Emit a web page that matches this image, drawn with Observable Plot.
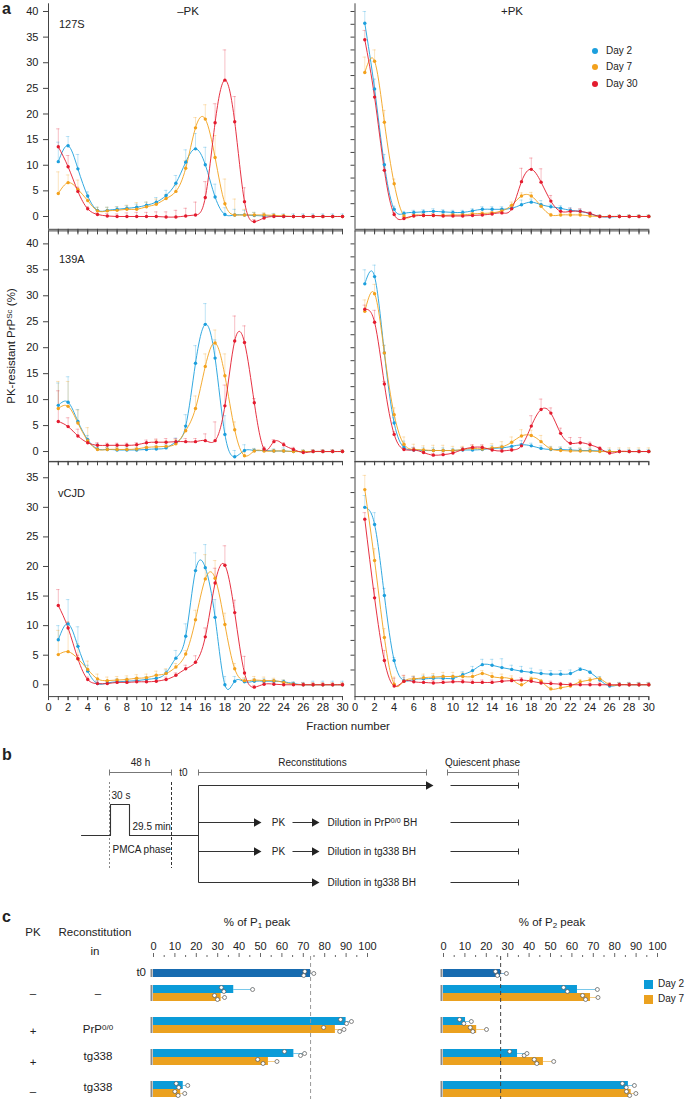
<!DOCTYPE html>
<html><head><meta charset="utf-8">
<script src="https://cdn.jsdelivr.net/npm/d3@7"></script>
<script src="https://cdn.jsdelivr.net/npm/@observablehq/plot@0.6"></script>
<style>
body{margin:0;background:#fff;}
#fig{position:relative;width:685px;height:1099px;overflow:hidden;font-family:"Liberation Sans",Arial,Helvetica,sans-serif;color:#222;background:#fff;}
#fig svg{position:absolute;}
.lab{position:absolute;white-space:nowrap;line-height:1;}
.lab sup{font-size:70%;vertical-align:0.45em;line-height:0;}
.lab sub{font-size:70%;vertical-align:-0.25em;line-height:0;}
</style></head><body><div id="fig"></div>
<script>
// ---------------- DATA: panel a ----------------
const fractions = d3.range(1, 31);
const seriesNames = ["Day 2", "Day 7", "Day 30"];
const seriesColors = ["#1c9fdd", "#f3a11c", "#e31b2e"];
const strains = ["127S", "139A", "vCJD"];
const treatments = ["–PK", "+PK"];

// 127S, −PK
const s127_mPK_d2 = [10.7,13.8,9.3,4.0,1.2,1.2,1.4,1.6,1.8,2.2,2.8,4.1,6.5,10.6,13.2,10.1,3.8,0.4,0.3,0.3,0.2,0.1,0.1,0,0,0,0,0,0,0];
const s127_mPK_d2_err = [3.8,1.8,2.8,0.8,0.6,0.6,0.5,0.5,0.6,0.6,0.9,1.0,1.5,2.4,3.0,3.4,2.5,1.3,1.1,0.9,0.6,0.5,0.5,0.5,0.5,0.5,0.5,0.5,0.5,0.5];
const s127_mPK_d7 = [4.5,6.6,5.3,3.1,1.1,1.1,1.2,1.4,1.4,1.9,2.4,3.5,4.9,9.4,17.3,19.0,11.5,2.5,0.3,0.3,0.3,0.3,0.2,0.1,0,0,0,0,0,0];
const s127_mPK_d7_err = [4.2,1.5,1.8,1.0,0.7,0.7,0.7,0.8,1.3,0.9,1.0,0.8,1.2,1.5,2.0,2.8,4.3,4.8,3.1,1.1,0.5,0.4,0.3,0.3,0,0,0,0,0,0];
const s127_mPK_d30 = [13.6,9.7,4.9,1.5,0.4,0.1,0,0,0,0,0,-0.1,-0.1,0.1,0.3,3.7,18.3,26.6,18.5,2.9,-1.0,-0.3,0,0,0,0,0,0,0,0];
const s127_mPK_d30_err = [3.5,2.2,0.8,0.4,0.3,0.5,0.5,0.7,0.8,0.8,0.9,1.0,1.3,1.5,2.5,3.1,3.7,5.9,4.9,2.7,0.4,0.3,0,0,0,0,0,0,0,0];
// 127S, +PK
const s127_pPK_d2 = [37.7,24.9,10.1,1.4,0.6,0.8,0.9,1.0,0.9,0.8,0.8,1.1,1.4,1.4,1.4,1.6,2.3,2.8,2.3,1.9,1.6,1.2,1.0,0.5,0,-0.1,0,0,0,0];
const s127_pPK_d2_err = [2.3,1.9,2.0,0.6,0.4,0.4,0.4,0.5,0.4,0.4,0.4,0.4,0.5,0.5,0.5,0.6,0.9,0.6,0.8,0.5,0.5,0.5,0.4,0.3,0.3,0.3,0.3,0.3,0.3,0.3];
const s127_pPK_d7 = [28.1,30.3,18.4,6.4,0.1,0.2,0.2,0.2,0.2,0.3,0.3,0.5,0.6,0.7,1.1,2.2,4.0,4.0,2.0,0.3,0.3,0.3,0.3,0.1,0,0,0,0,0,0];
const s127_pPK_d7_err = [3.0,2.2,2.3,0.9,0.3,0.3,0.3,0.3,0.3,0.3,0.3,0.3,0.3,0.3,0.4,0.6,0.6,0.7,0.5,0.3,0.3,0.3,0.3,0.3,0.3,0.3,0.3,0.3,0.3,0.3];
const s127_pPK_d30 = [34.5,23.3,9.0,0.4,-0.4,0.1,0.2,0.2,0.1,0.1,0.1,0.2,0.3,0.5,0.7,1.5,6.8,9.2,6.7,3.0,1.0,1.0,1.0,0.6,0,0,0,0,0,0];
const s127_pPK_d30_err = [1.8,1.5,1.2,0.4,0.3,0.3,0.3,0.3,0.3,0.3,0.3,0.3,0.3,0.3,0.4,0.6,2.6,2.2,2.6,1.1,0.6,0.6,0.5,0.3,0,0,0,0,0,0];
// 139A, −PK
const s139_mPK_d2 = [8.9,9.5,5.8,2.3,0.5,0.4,0.3,0.3,0.3,0.4,0.5,0.7,1.8,4.9,17.0,24.5,18.0,3.3,-1.0,0.2,0.2,0.2,0.1,0.1,0,0,0,0,0,0];
const s139_mPK_d2_err = [4.3,4.9,2.3,0.8,1.0,0.4,0.4,0.4,0.4,0.6,0.6,0.6,0.8,2.2,3.4,4.0,3.5,3.6,1.2,1.1,0.4,0.4,0.4,0.6,0.3,0.3,0.3,0.3,0.3,0.3];
const s139_mPK_d7 = [8.3,8.7,5.5,2.1,0.4,0.4,0.4,0.4,0.5,0.8,0.9,1.0,1.5,4.0,8.3,16.4,20.9,14.6,4.2,-0.8,0.1,0.1,0.1,0.1,0,0,0,0,0,0];
const s139_mPK_d7_err = [5.2,4.8,2.5,2.5,0.4,0.4,0.4,0.6,0.7,0.8,1.3,1.0,0.8,1.0,2.4,2.4,2.5,4.2,1.5,0.6,0.4,0.3,0.3,0.3,0.3,0.3,0.3,0.3,0.3,0.3];
const s139_mPK_d30 = [5.8,4.8,3.0,1.7,1.2,1.2,1.2,1.2,1.3,1.7,1.8,1.8,1.9,1.9,1.9,2.1,2.1,8.8,21.3,21.0,9.4,0.5,1.9,1.3,0.4,-0.2,0,0,0,0];
const s139_mPK_d30_err = [5.9,1.7,1.3,0.8,0.5,0.4,0.4,0.4,0.4,0.5,0.6,0.7,0.6,0.6,0.6,1.3,3.6,4.0,4.8,3.2,0.8,0.4,0.4,0.4,0.4,0.3,0.3,0.3,0.3,0.3];
// 139A, +PK
const s139_pPK_d2 = [32.3,33.7,19.0,5.5,0.8,0.3,0.2,0.2,0.2,0.2,0.3,0.3,0.4,0.6,0.7,1.0,1.3,1.1,0.6,0.4,0.4,0.3,0.2,0.2,0.1,0,0,0,0,0];
const s139_pPK_d2_err = [2.7,2.2,1.5,1.0,1.2,0.5,0.5,0.5,0.5,0.4,0.4,0.4,0.4,0.5,0.5,0.8,0.8,0.5,0.5,0.5,0.5,0.5,0.4,0.4,0.4,0.4,0.4,0.4,0.4,0.4];
const s139_pPK_d7 = [27.0,30.4,19.0,7.1,1.4,0.4,0.3,0.2,0.2,0.2,0.4,0.6,0.5,0.7,0.9,1.8,3.0,3.1,1.9,0.5,0.2,0.1,0.1,0.1,0,0,0,0,0,0];
const s139_pPK_d7_err = [2.2,1.8,1.4,1.3,1.4,1.0,0.8,1.0,1.0,0.8,0.6,0.6,0.6,0.8,1.0,1.0,1.2,1.0,1.2,0.5,0.6,0.6,0.6,0.7,0.7,0.7,0.7,0.7,0.7,0.7];
const s139_pPK_d30 = [27.4,24.9,13.0,3.3,0.4,0.3,-0.2,-0.7,-0.6,-0.3,0.4,0.8,0.8,0.3,0.1,0.3,1.1,4.9,8.1,7.4,3.5,1.6,1.7,1.3,0.6,-0.3,0,0,0,0];
const s139_pPK_d30_err = [0.8,2.3,0.5,0.5,0.8,0.5,0.4,0.3,0.3,0.3,0.4,0.5,0.5,0.3,0.3,0.3,0.4,2.0,2.0,1.0,1.0,1.1,1.0,0.5,0.3,0,0,0,0,0];
// vCJD, −PK
const svCJD_mPK_d2 = [7.6,10.3,6.5,2.3,0.2,0.3,0.5,0.6,0.7,0.9,1.1,2.0,4.5,8.2,19.3,19.8,11.4,0.0,0.6,0.5,0.6,0.6,0.6,0.5,0.2,0,0,0,0,0];
const svCJD_mPK_d2_err = [2.4,4.1,3.3,1.0,0.5,0.4,0.5,0.5,0.5,0.5,0.6,0.5,1.3,2.1,3.0,3.9,3.0,1.4,0.8,0.5,0.4,0.4,0.3,0.3,0.3,0.4,0.6,0.6,0.6,0.6];
const svCJD_mPK_d7 = [5.1,5.6,4.4,2.6,1.0,0.7,0.8,0.9,1.1,1.2,1.6,1.9,3.0,5.2,11.0,17.9,18.0,10.2,2.7,0.7,0.8,0.7,0.7,0.4,0.1,0,0,0,0,0];
const svCJD_mPK_d7_err = [4.1,5.0,2.5,1.4,0.8,0.6,0.6,0.6,0.6,0.6,0.7,0.8,0.6,0.6,1.6,4.1,3.0,1.9,0.9,0.5,0.6,0.6,0.4,0.4,0.3,0.3,0.3,0.3,0.3,0.3];
const svCJD_mPK_d30 = [13.4,9.6,4.4,0.9,0.2,0.2,0.4,0.4,0.5,0.5,0.6,0.9,1.6,2.7,3.8,8.1,17.2,20.2,12.2,2.0,-0.4,0.1,0.1,0,0,0,0,0,0,0];
const svCJD_mPK_d30_err = [2.7,1.0,0.6,0.4,0.4,0.4,0.4,0.4,0.4,0.4,0.4,0.4,0.4,0.6,1.1,1.5,2.5,3.3,2.1,2.8,0.3,0.3,0.3,0.3,0.3,0.3,0.3,0.3,0.3,0.3];
// vCJD, +PK
const svCJD_pPK_d2 = [30.0,27.1,15.1,4.1,0.7,0.9,1.0,1.1,1.1,1.1,1.7,2.4,3.4,3.3,2.9,2.6,2.3,2.1,1.9,1.8,1.8,1.9,2.6,2.1,0.8,-0.2,0,0,0,0];
const svCJD_pPK_d2_err = [2.0,2.0,1.2,0.5,0.5,0.5,0.5,0.5,0.5,0.5,0.5,0.7,0.9,1.0,1.5,0.7,0.8,0.7,0.6,0.6,0.6,0.6,0.3,0.3,0.6,0.3,0.4,0.4,0.4,0.4];
const svCJD_pPK_d7 = [33.0,21.0,8.0,0.1,0.6,1.0,1.2,1.3,1.4,1.4,1.4,1.4,1.9,1.4,1.2,0.9,0.0,1.0,0.6,-0.7,-0.5,-0.2,0.5,0.8,1.0,0,0,0,0,0];
const svCJD_pPK_d7_err = [2.4,2.0,1.5,1.2,0.9,0.5,0.6,0.6,0.7,0.7,0.6,0.6,0.5,0.6,0.6,0.6,0.6,0.3,0.3,0.3,0.3,0.3,0.4,0.4,0.3,0.3,0.3,0.3,0.3,0.3];
const svCJD_pPK_d30 = [28.0,14.7,4.1,-0.2,0.6,0.5,0.4,0.3,0.4,0.5,0.5,0.4,0.4,0.4,0.6,0.7,0.8,0.6,0.3,0.2,0.1,0,0,0,0,0,0,0,0,0];
const svCJD_pPK_d30_err = [1.1,1.6,1.7,1.3,1.0,0.8,0.5,0.4,0.4,0.4,0.4,0.4,0.4,0.4,0.4,0.4,0.4,0.3,0.3,0.4,0.3,0.3,0.3,0.3,0.3,0.3,0.3,0.3,0.3,0.3];

// ---------------- DATA: panel c ----------------
const cGroups = ["t0", "–/–", "+/PrP0/0", "+/tg338", "–/tg338"];
const cKinds = ["t0", "Day 2", "Day 7"];
const cColors = ["#176bb0", "#0b9bd8", "#eba11f"];
const p1Day2 = [73.4, 37.5, 90.0, 65.6, 13.9];
const p1Day7 = [null, 31.6, 85.0, 53.7, 12.7];
const p1Day2Err = [1.5, 8.8, 2.5, 5.0, 2.1];
const p1Day7Err = [null, 1.6, 4.0, 4.0, 1.9];
const p1Day2Reps = [[70.7, 70.2, 74.9], [31.7, 32.9, 46.3], [87.4, 90.2, 92.5], [61.2, 68.7, 70.6], [10.6, 11.8, 16.0]];
const p1Day7Reps = [[], [28.5, 29.9, 33.2], [79.5, 87.0, 89.0], [48.7, 51.2, 57.7], [10.0, 11.5, 14.6]];
const p2Day2 = [26.7, 62.6, 10.3, 34.6, 86.4];
const p2Day7 = [null, 68.7, 15.5, 46.7, 87.7];
const p2Day2Err = [2.7, 9.3, 2.7, 4.4, 2.8];
const p2Day7Err = [null, 3.5, 4.6, 4.8, 2.2];
const p2Day2Reps = [[24.3, 25.2, 29.4], [56.1, 57.9, 71.9], [7.5, 9.5, 13.0], [30.9, 37.7, 39.0], [83.6, 85.4, 89.2]];
const p2Day7Reps = [[], [65.0, 66.4, 72.2], [12.5, 13.7, 20.1], [42.4, 43.6, 51.5], [85.5, 87.0, 89.9]];
const cAxisTicks = d3.range(0, 101, 10);

// ---------------- DATA: panel b (schematic, diagram units) ----------------
const bBrackets = [{x1: 109, x2: 171}, {x1: 198, x2: 426}, {x1: 447, x2: 518}];
const bPulse = [[81, 95], [110, 95], [110, 64], [129, 64], [129, 95], [198, 95]];
const bLanes = [
  {y: 45, x1: 198, x2: 432, pk: false},
  {y: 82, x1: 198, x2: 260, pk: true},
  {y: 111, x1: 198, x2: 260, pk: true},
  {y: 142, x1: 198, x2: 318, pk: false}
];
const bTexts = [
  {x: 140, y: 22, t: "48 h", a: "middle"},
  {x: 183, y: 32, t: "t0", a: "middle"},
  {x: 312, y: 22, t: "Reconstitutions", a: "middle"},
  {x: 482, y: 22, t: "Quiescent phase", a: "middle"},
  {x: 111, y: 55, t: "30 s", a: "start"},
  {x: 132, y: 86, t: "29.5 min", a: "start"},
  {x: 112, y: 109, t: "PMCA phase", a: "start"},
  {x: 278, y: 82, t: "PK", a: "middle"},
  {x: 278, y: 111, t: "PK", a: "middle"},
  {x: 327, y: 82, t: "Dilution in PrP^{0/0} BH", a: "start"},
  {x: 327, y: 111, t: "Dilution in tg338 BH", a: "start"},
  {x: 327, y: 142, t: "Dilution in tg338 BH", a: "start"}
];

// ---------------- helpers ----------------
const fig = document.getElementById("fig");
const FONT = '"Liberation Sans", Arial, Helvetica, sans-serif';
const AX = "#444";
function place(svg, left, top) { svg.style.left = left + "px"; svg.style.top = top + "px"; fig.appendChild(svg); }
function rich(s) { return s.replace(/\^\{([^}]*)\}/g, "<sup>$1</sup>").replace(/_\{([^}]*)\}/g, "<sub>$1</sub>"); }
function label(txt, x, y, o = {}) {
  const d = document.createElement("div");
  d.className = "lab";
  d.innerHTML = rich(txt);
  const tx = o.anchor === "start" ? "0" : o.anchor === "end" ? "-100%" : "-50%";
  d.style.left = x + "px"; d.style.top = y + "px";
  d.style.fontSize = (o.size || 11) + "px";
  if (o.bold) d.style.fontWeight = "bold";
  d.style.transform = `translate(${tx},-50%)` + (o.rotate ? ` rotate(${o.rotate}deg)` : "");
  fig.appendChild(d);
  return d;
}
function richSvg(svg) {
  const NS = "http://www.w3.org/2000/svg";
  svg.querySelectorAll("text").forEach(t => {
    const nodes = t.querySelector("tspan") ? [...t.querySelectorAll("tspan")] : [t];
    nodes.forEach(n => {
      const s = n.textContent;
      if (!/[\^_]\{/.test(s)) return;
      n.textContent = "";
      const re = /([\^_])\{([^}]*)\}/g; let last = 0, m;
      const add = (str, shift) => { const sp = document.createElementNS(NS, "tspan"); sp.textContent = str; if (shift) { sp.setAttribute("baseline-shift", shift); sp.setAttribute("font-size", "70%"); } n.appendChild(sp); };
      while ((m = re.exec(s))) { if (m.index > last) add(s.slice(last, m.index)); add(m[2], m[1] === "^" ? "super" : "sub"); last = re.lastIndex; }
      if (last < s.length) add(s.slice(last));
    });
  });
}
const baseStyle = {background: "transparent", overflow: "visible", fontFamily: FONT, fontSize: "11px", color: "#222"};

// ---------------- panel a ----------------
const panelSeries = {
  "127S|–PK": [[s127_mPK_d2, s127_mPK_d2_err], [s127_mPK_d7, s127_mPK_d7_err], [s127_mPK_d30, s127_mPK_d30_err]],
  "127S|+PK": [[s127_pPK_d2, s127_pPK_d2_err], [s127_pPK_d7, s127_pPK_d7_err], [s127_pPK_d30, s127_pPK_d30_err]],
  "139A|–PK": [[s139_mPK_d2, s139_mPK_d2_err], [s139_mPK_d7, s139_mPK_d7_err], [s139_mPK_d30, s139_mPK_d30_err]],
  "139A|+PK": [[s139_pPK_d2, s139_pPK_d2_err], [s139_pPK_d7, s139_pPK_d7_err], [s139_pPK_d30, s139_pPK_d30_err]],
  "vCJD|–PK": [[svCJD_mPK_d2, svCJD_mPK_d2_err], [svCJD_mPK_d7, svCJD_mPK_d7_err], [svCJD_mPK_d30, svCJD_mPK_d30_err]],
  "vCJD|+PK": [[svCJD_pPK_d2, svCJD_pPK_d2_err], [svCJD_pPK_d7, svCJD_pPK_d7_err], [svCJD_pPK_d30, svCJD_pPK_d30_err]]
};
const rowLayout = [
  {top: 0, height: 240, mT: 3.3, mB: 11.2, domain: [-2.5, 41.5], maxTick: 40, topFrame: false, xLabels: false},
  {top: 225, height: 245, mT: 5.4, mB: 9.1, domain: [-1.9, 42.5], maxTick: 40, topFrame: true, xLabels: false},
  {top: 455, height: 285, mT: 6.3, mB: 43.9, domain: [-2.0, 37.7], maxTick: 35, topFrame: true, xLabels: true}
];
const colLayout = [
  {left: 0, width: 345, mL: 48, mR: 3},
  {left: 345, width: 306, mL: 9.5, mR: 2.7}
];

strains.forEach((strain, r) => {
  treatments.forEach((trt, c) => {
    const R = rowLayout[r], C = colLayout[c];
    const data = panelSeries[strain + "|" + trt].flatMap(([vals, errs], s) =>
      vals.map((v, i) => ({frac: fractions[i], value: v, err: errs[i], top: v + errs[i], series: seriesNames[s]})));
    const errRows = data.filter(d => d.err > 0);
    const dpp = (R.domain[1] - R.domain[0]) / (R.height - R.mT - R.mB);
    const marks = [
      Plot.ruleX(errRows, {x: "frac", y1: "value", y2: "top", stroke: "series", strokeOpacity: 0.35, strokeWidth: 0.8}),
      Plot.ruleY(errRows, {y: "top", x1: d => d.frac - 0.18, x2: d => d.frac + 0.18, stroke: "series", strokeOpacity: 0.35, strokeWidth: 0.8}),
      Plot.line(data, {x: "frac", y: "value", stroke: "series", curve: "natural", strokeWidth: 0.9}),
      Plot.dot(data, {x: "frac", y: "value", fill: "series", r: 1.7}),
      Plot.ruleX([0], {stroke: AX}),
      Plot.ruleY([R.domain[0]], {stroke: AX}),
      Plot.axisX({anchor: "bottom", ticks: fractions, tickSize: 4, tickFormat: () => "", stroke: AX})
    ];
    if (R.xLabels) marks.push(Plot.axisX({anchor: "bottom", ticks: d3.range(0, 31, 2), tickSize: 4, tickPadding: 3, stroke: AX, fontSize: 11}));
    if (R.topFrame) marks.push(
      Plot.ruleY([R.domain[1]], {stroke: AX}),
      Plot.ruleX(fractions, {x: d => d, y1: R.domain[1], y2: R.domain[1] - 4 * dpp, stroke: AX})
    );
    if (c === 0) marks.push(Plot.axisY({anchor: "left", ticks: d3.range(0, R.maxTick + 1, 5), tickSize: 5, tickPadding: 5, stroke: AX, fontSize: 11}));
    else marks.push(Plot.axisY({anchor: "left", ticks: d3.range(0, R.maxTick + 0.1, 2.5), tickSize: 4, tickFormat: () => "", stroke: AX}));
    const svg = Plot.plot({
      width: C.width, height: R.height,
      marginLeft: C.mL, marginRight: C.mR, marginTop: R.mT, marginBottom: R.mB,
      style: baseStyle,
      x: {domain: [0, 30], label: null},
      y: {domain: R.domain, label: null},
      color: {domain: seriesNames, range: seriesColors},
      marks
    });
    place(svg, C.left, R.top);
  });
});

// ---------------- panel b ----------------
{
  const links = [];
  bBrackets.forEach(b => {
    links.push({x1: b.x1, y1: 32, x2: b.x2, y2: 32, k: "br"});
    links.push({x1: b.x1, y1: 29, x2: b.x1, y2: 35, k: "br"});
    links.push({x1: b.x2, y1: 29, x2: b.x2, y2: 35, k: "br"});
  });
  links.push({x1: 198, y1: 45, x2: 198, y2: 142, k: "ln"});
  const heads = [];
  bLanes.forEach(l => {
    links.push({x1: l.x1, y1: l.y, x2: l.x2 - 5, y2: l.y, k: "ln"});
    heads.push({x: l.x2 - 4, y: l.y});
    if (l.pk) { links.push({x1: 292, y1: l.y, x2: 313, y2: l.y, k: "ln"}); heads.push({x: 314, y: l.y}); }
    links.push({x1: 450, y1: l.y, x2: 518, y2: l.y, k: "ln"});
    links.push({x1: 518, y1: l.y - 3, x2: 518, y2: l.y + 3, k: "ln"});
  });
  const svg = Plot.plot({
    width: 685, height: 150, margin: 0,
    style: {...baseStyle, fontSize: "10px"},
    x: {type: "identity", axis: null}, y: {type: "identity", axis: null},
    marks: [
      Plot.link(links.filter(d => d.k === "br"), {x1: "x1", y1: "y1", x2: "x2", y2: "y2", stroke: "#777", strokeWidth: 1}),
      Plot.link(links.filter(d => d.k === "ln"), {x1: "x1", y1: "y1", x2: "x2", y2: "y2", stroke: "#333", strokeWidth: 1}),
      Plot.ruleX([109], {y1: 42, y2: 128, stroke: "#888", strokeDasharray: "2,2"}),
      Plot.ruleX([171], {y1: 42, y2: 128, stroke: "#333", strokeDasharray: "3,2"}),
      Plot.line(bPulse, {x: d => d[0], y: d => d[1], stroke: "#333", strokeWidth: 1.1}),
      Plot.dot(heads, {x: "x", y: "y", symbol: "triangle", rotate: 90, r: 3.2, fill: "#222"}),
      Plot.text(bTexts.filter(d => d.a === "middle"), {x: "x", y: "y", text: "t", textAnchor: "middle", fill: "#222"}),
      Plot.text(bTexts.filter(d => d.a === "start"), {x: "x", y: "y", text: "t", textAnchor: "start", fill: "#222"})
    ]
  });
  place(svg, 0, 740);
}

// ---------------- panel c ----------------
const bandDomain = ["t0", "s1", "g1d2", "g1d7", "s2", "s3", "g2d2", "g2d7", "s4", "s5", "g3d2", "g3d7", "s6", "s7", "g4d2", "g4d7"];
function cChart(d2, d7, e2, e7, r2, r7, left, width, mL, mR, dashColor) {
  const bars = [], reps = [];
  cGroups.forEach((g, i) => {
    if (i === 0) {
      bars.push({key: "t0", kind: "t0", value: d2[0], hi: d2[0] + e2[0]});
      r2[0].forEach((v, j) => reps.push({key: "t0", v, j}));
    } else {
      bars.push({key: `g${i}d2`, kind: "Day 2", value: d2[i], hi: d2[i] + e2[i]});
      bars.push({key: `g${i}d7`, kind: "Day 7", value: d7[i], hi: d7[i] + e7[i]});
      r2[i].forEach((v, j) => reps.push({key: `g${i}d2`, v, j}));
      r7[i].forEach((v, j) => reps.push({key: `g${i}d7`, v, j}));
    }
  });
  const jitter = [-2, 2, 0];
  const svg = Plot.plot({
    width, height: 199, marginLeft: mL, marginRight: mR, marginTop: 56, marginBottom: 0,
    style: baseStyle,
    x: {domain: [0, 100], label: null},
    y: {type: "band", domain: bandDomain, range: [69, 197], padding: 0, axis: null},
    color: {domain: cKinds, range: cColors},
    marks: [
      Plot.ruleY(bars, {y: "key", x1: "value", x2: "hi", stroke: "kind", strokeOpacity: 0.55, strokeWidth: 1}),
      Plot.tickX(bars, {x: "hi", y: "key", stroke: "kind", strokeOpacity: 0.7, inset: 2.5}),
      Plot.barX(bars, {x: "value", y: "key", fill: "kind"}),
      Plot.tickX(bars, {x: 0, y: "key", dx: -2, stroke: "#8a8a8a", strokeWidth: 2}),
      ...[0, 1, 2].map(j => Plot.dot(reps.filter(d => d.j === j), {x: "v", y: "key", dy: jitter[j], r: 2, fill: "white", stroke: "#555", strokeWidth: 0.7})),
      Plot.ruleX([d2[0]], {stroke: dashColor, strokeDasharray: "4,3"}),
      Plot.axisX({anchor: "top", ticks: cAxisTicks, tickSize: 4, tickPadding: 3, stroke: "#666", fontSize: 11}),
      Plot.axisX({anchor: "top", ticks: d3.range(5, 100, 10), tickSize: 2, tickFormat: () => "", stroke: "#666"})
    ]
  });
  place(svg, left, 900);
  return svg;
}
cChart(p1Day2, p1Day7, p1Day2Err, p1Day7Err, p1Day2Reps, p1Day7Reps, 0, 380, 153, 13, "#999");
cChart(p2Day2, p2Day7, p2Day2Err, p2Day7Err, p2Day2Reps, p2Day7Reps, 380, 305, 63, 28, "#444");

fig.querySelectorAll("svg").forEach(s => richSvg(s));

// ---------------- labels ----------------
label("a", 2, 9, {size: 16, bold: true, anchor: "start"});
label("–PK", 188, 12, {size: 11.5});
label("+PK", 512, 12, {size: 11.5});
label("127S", 59, 24, {anchor: "start", size: 11});
label("139A", 59, 259, {anchor: "start", size: 11});
label("vCJD", 58, 493, {anchor: "start", size: 11});
label("PK-resistant PrP^{Sc} (%)", 12, 346, {size: 11.5, rotate: -90});
label("Fraction number", 348, 727, {size: 11.5});
seriesNames.forEach((n, i) => {
  const y = [51, 67, 84][i];
  const dot = document.createElement("div");
  dot.style.cssText = `position:absolute;left:${595 - 3}px;top:${y - 3}px;width:6px;height:6px;border-radius:50%;background:${seriesColors[i]}`;
  fig.appendChild(dot);
  label(n, 606, y, {anchor: "start", size: 10});
});
label("b", 2, 755, {size: 16, bold: true, anchor: "start"});
label("c", 2, 917, {size: 16, bold: true, anchor: "start"});
label("PK", 33, 933, {size: 11.5});
label("Reconstitution", 95, 933, {size: 11.5});
label("in", 95, 952, {size: 11.5});
label("% of P_{1} peak", 257, 923, {size: 11.5});
label("% of P_{2} peak", 552, 923, {size: 11.5});
label("t0", 146, 973, {anchor: "end", size: 11.5});
label("–", 33, 994, {size: 11.5}); label("–", 98, 994, {size: 11.5});
label("+", 33, 1032, {size: 11.5}); label("PrP^{0/0}", 98, 1030, {size: 11.5});
label("+", 33, 1063, {size: 11.5}); label("tg338", 98, 1057, {size: 11.5});
label("–", 33, 1092, {size: 11.5}); label("tg338", 98, 1088, {size: 11.5});
["Day 2", "Day 7"].forEach((n, i) => {
  const y = [984, 999][i];
  const sq = document.createElement("div");
  sq.style.cssText = `position:absolute;left:644px;top:${y - 4.5}px;width:9px;height:9px;background:${cColors[i + 1]}`;
  fig.appendChild(sq);
  label(n, 658, y, {anchor: "start", size: 10});
});
</script></body></html>
